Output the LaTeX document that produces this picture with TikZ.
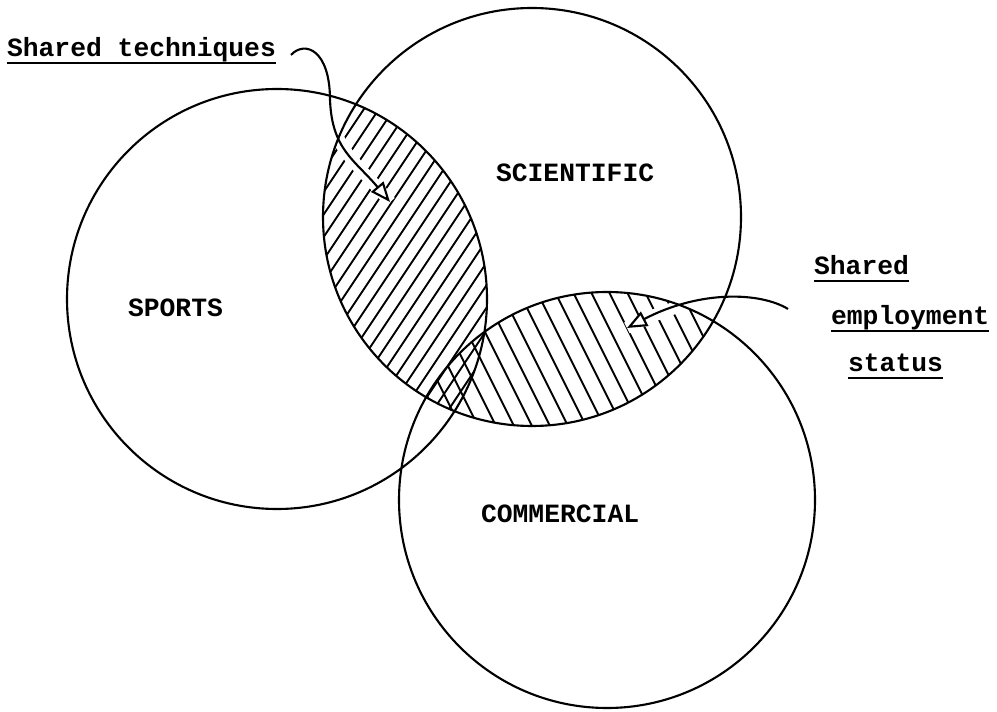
\documentclass[tikz,border=0pt]{standalone}
\usepackage{fontspec}
\setmonofont{Liberation Mono}
\usetikzlibrary{arrows.meta}
\newcommand{\typedul}[1]{\setbox0\hbox{#1}\rlap{\rule[-4pt]{\wd0}{1.4pt}}\box0}
\begin{document}
\begin{tikzpicture}[x=0.02cm, y=-0.02cm, line width=1.2pt,
    lbl/.style={font=\ttfamily\bfseries\fontsize{15}{18}\selectfont, inner sep=0pt, anchor=base west},
    hatch/.style={line width=1.1pt},
    conn/.style={preaction={draw=white, line width=7pt, arrows=-},
      -{Triangle[fill=white, length=0.4cm, width=0.32cm]}}]
  \useasboundingbox (0,0) rectangle (997,712);
  \coordinate (sp) at (277,299);
  \coordinate (sc) at (532,217);
  \coordinate (co) at (607,500);
  % hatched overlaps
  \begin{scope}
    \clip (sp) circle[radius=210];
    \clip (sc) circle[radius=209];
    \foreach \k in {0,15,...,600} \draw[hatch] (\k,520) -- ++(400,-600);
  \end{scope}
  \begin{scope}
    \clip (sc) circle[radius=209];
    \clip (co) circle[radius=208];
    \foreach \k in {300,318,...,720} \draw[hatch] (\k,250) -- ++(300,600);
  \end{scope}
  \node[lbl] (spl) at (127,317) {SPORTS};
  \node[lbl] (scl) at (495,182) {SCIENTIFIC};
  \node[lbl] (col) at (480,522) {COMMERCIAL};
  \node[lbl] (st) at (6,57) {\typedul{Shared techniques}};
  \node[lbl] (se1) at (813,275) {\typedul{Shared}};
  \node[lbl] (se2) at (830,325) {\typedul{employment}};
  \node[lbl] (se3) at (847,372) {\typedul{status}};
  \coordinate (tech) at (390,202);
  \coordinate (empl) at (627,328);
  \draw[conn] ([shift={(14,4)}]st.east) .. controls (305,40) and (330,50) .. (330,100)
    .. controls (332,150) and (355,160) .. (tech);
  \draw[conn] ([shift={(-42,-10)}]se2.west) .. controls (760,292) and (700,290) .. (empl);
  \draw (sp) circle[radius=210] (sc) circle[radius=209] (co) circle[radius=208];
\end{tikzpicture}
\end{document}
